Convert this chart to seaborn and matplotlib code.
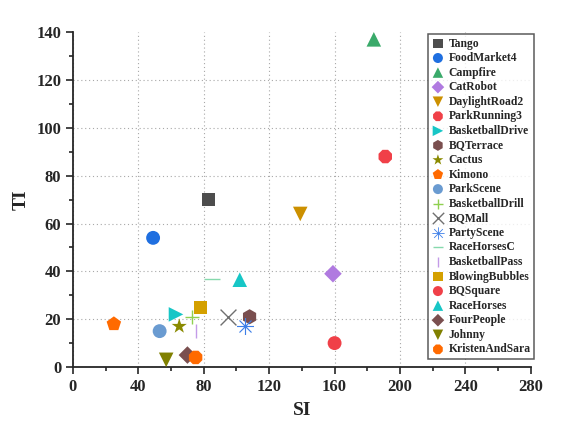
import matplotlib
matplotlib.use("Agg")
import matplotlib.pyplot as plt
import seaborn as sns
import pandas as pd
from matplotlib.ticker import MultipleLocator

names = ["Tango", "FoodMarket4", "Campfire", "CatRobot", "DaylightRoad2", "ParkRunning3",
         "BasketballDrive", "BQTerrace", "Cactus", "Kimono", "ParkScene", "BasketballDrill",
         "BQMall", "PartyScene", "RaceHorsesC", "BasketballPass", "BlowingBubbles", "BQSquare",
         "RaceHorses", "FourPeople", "Johnny", "KristenAndSara"]
si = [83, 49, 184, 159, 139, 191, 63, 108, 65, 25, 53, 72.5, 95, 105, 85, 75, 78, 160, 102, 70, 57, 75]
ti = [70, 54, 137, 39, 64, 88, 22, 21, 17, 18, 15, 21, 21, 17, 37, 15, 25, 10, 36.5, 5, 3, 4]
colors = ["#4d4d4d", "#1f6fe0", "#3aaa6a", "#b07ae0", "#cc9000", "#f04048", "#17c6c6", "#7a4f4f",
          "#8a8a00", "#ff6a00", "#6a9bd1", "#8fd050", "#707070", "#3d7fe8", "#86d9ad", "#c39be8",
          "#d4a000", "#f04048", "#17c6c6", "#7a4f4f", "#808000", "#ff6a00"]
markers = ["s", "o", "^", "D", "v", "8", ">", "h", "*", "p", "o", "+", "x", "$\u2733$", "_", "|",
           "s", "o", "^", "D", "v", "8"]
sizes = [90, 100, 110, 80, 110, 110, 110, 120, 130, 120, 100, 110, 130, 150, 120, 110,
         90, 100, 110, 80, 110, 110]

df = pd.DataFrame({"SI": si, "TI": ti, "name": names})

sns.set_style("ticks")
plt.rcParams["font.family"] = ["Liberation Serif", "DejaVu Serif"]
plt.rcParams["font.weight"] = "bold"

fig = plt.figure(figsize=(5.82, 4.29), dpi=100)
ax = fig.add_axes([0.1254, 0.1445, 0.7866, 0.7805])

line_markers = {"+", "x", "_", "|"}
for i, n in enumerate(names):
    sub = df[df["name"] == n]
    m = markers[i]
    if m in line_markers:
        sns.scatterplot(data=sub, x="SI", y="TI", ax=ax, marker=m, color=colors[i],
                        s=sizes[i], linewidth=1.0, label=n, zorder=3)
    elif m.startswith("$"):
        sns.scatterplot(data=sub, x="SI", y="TI", ax=ax, marker=m, color=colors[i],
                        s=sizes[i], linewidth=0.0, label=n, zorder=3)
    else:
        sns.scatterplot(data=sub, x="SI", y="TI", ax=ax, marker=m, color=colors[i],
                        s=sizes[i], edgecolor="none", label=n, zorder=3)

ax.set_xlim(0, 280)
ax.set_ylim(0, 140)
ax.xaxis.set_major_locator(MultipleLocator(40))
ax.xaxis.set_minor_locator(MultipleLocator(20))
ax.yaxis.set_major_locator(MultipleLocator(20))
ax.yaxis.set_minor_locator(MultipleLocator(10))
ax.tick_params(axis="both", which="major", length=5, width=1.2, labelsize=12, direction="out")
ax.tick_params(axis="both", which="minor", length=3, width=1.2, direction="out")
for lab in ax.get_xticklabels() + ax.get_yticklabels():
    lab.set_fontweight("bold")
ax.grid(True, which="major", linestyle=(0, (1, 2.5)), color="#a8a8a8", linewidth=0.8, zorder=0)
ax.set_axisbelow(True)
for s in ["top", "right"]:
    ax.spines[s].set_visible(False)
for s in ["left", "bottom"]:
    ax.spines[s].set_linewidth(1.3)
ax.set_xlabel("SI", fontsize=14, fontweight="bold", labelpad=5)
ax.set_ylabel("TI", fontsize=14, fontweight="bold", labelpad=5)

fig.canvas.draw()
for loc, gl in zip(ax.yaxis.get_majorticklocs(), ax.yaxis.get_gridlines()):
    if loc >= 140:
        gl.set_visible(False)

leg = ax.legend(loc="upper left", bbox_to_anchor=(428 / 582, 1 - 34 / 429),
                bbox_transform=fig.transFigure, frameon=True, fancybox=False,
                prop={"family": "Liberation Serif", "weight": "bold", "size": 8.4},
                labelspacing=0.22, handletextpad=0.35, handlelength=1.1,
                borderpad=0.3, borderaxespad=0, markerscale=0.72)
leg.get_frame().set_edgecolor("#333333")
leg.get_frame().set_linewidth(1.1)

fig.savefig("out.png", dpi=100)
